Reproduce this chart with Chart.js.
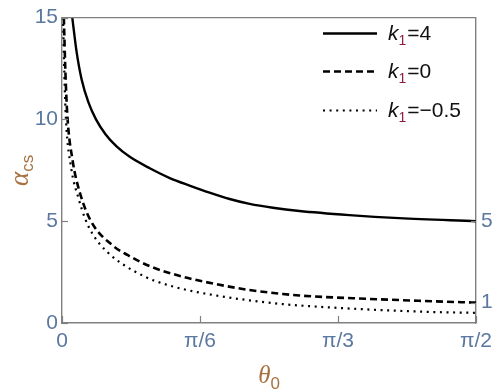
<!DOCTYPE html>
<html><head><meta charset="utf-8">
<script src="https://cdn.jsdelivr.net/npm/chart.js@4.4.1/dist/chart.umd.min.js"></script>
<style>html,body{margin:0;padding:0;background:#fff;overflow:hidden}#wrap{width:498px;height:391px;position:relative}</style>
</head><body><div id="wrap"><canvas id="c" width="498" height="391"></canvas></div>
<script>
// Data (theta0 in radians, alpha_cs)
const thetaK4 = [0.039, 0.055, 0.0745, 0.1, 0.129, 0.165, 0.207, 0.257, 0.333, 0.409, 0.484, 0.56, 0.636, 0.712, 0.8, 0.901, 1.09, 1.279, 1.571];
const alphaK4 = [15, 13.35, 11.96, 10.85, 10.0, 9.27, 8.67, 8.16, 7.6, 7.12, 6.75, 6.4, 6.09, 5.85, 5.66, 5.5, 5.3, 5.15, 5.0];
const thetaK0 = [0.007, 0.013, 0.02, 0.04, 0.068, 0.11, 0.193, 0.25, 0.333, 0.459, 0.585, 0.711, 0.836, 0.901, 1.153, 1.404, 1.571];
const alphaK0 = [15, 12.3, 10.24, 8.0, 6.39, 5.0, 3.8, 3.33, 2.79, 2.27, 1.91, 1.62, 1.43, 1.35, 1.19, 1.07, 1.0];
const thetaKm = [0.004, 0.009, 0.015, 0.035, 0.064, 0.087, 0.117, 0.174, 0.231, 0.314, 0.352, 0.458, 0.585, 0.712, 0.836, 0.901, 1.153, 1.404, 1.571];
const alphaKm = [15, 12.2, 10, 7.6, 6.07, 5.15, 4.35, 3.46, 2.88, 2.28, 2.07, 1.67, 1.35, 1.11, 0.93, 0.86, 0.67, 0.54, 0.5];
const seriesK = ['4', '0', '\u22120.5'];
const xTickValues = [0, Math.PI / 6, Math.PI / 3, Math.PI / 2];
const xTickLabels = ['0', '\u03c0/6', '\u03c0/3', '\u03c0/2'];
const yTickValues = [0, 5, 10, 15];
const rightTickValues = [1, 5];
const rightTickLabels = ['1', '5'];

const TICK_COLOR = '#5b78a0';
const TITLE_COLOR = '#a8713f';
const FRAME = '#808080';
const FONT = "'Liberation Sans', Arial, sans-serif";

function pts(xs, ys) { return xs.map((x, i) => ({ x: x, y: ys[i] })); }
const dashes = [[], [7, 4], [2, 4.6]];
const widths = [2.4, 2.6, 2.2];

const framePlugin = {
  id: 'frame',
  afterDraw(chart) {
    const { ctx, chartArea: a, scales } = chart;
    ctx.save();
    ctx.strokeStyle = FRAME; ctx.lineWidth = 1.4;
    ctx.beginPath();
    ctx.moveTo(a.left, a.top); ctx.lineTo(a.right, a.top);
    ctx.stroke();
    // inward tick marks
    ctx.lineWidth = 1.2;
    xTickValues.forEach(v => {
      const px = Math.round(scales.x.getPixelForValue(v)) + 0.5;
      ctx.beginPath(); ctx.moveTo(px, a.bottom); ctx.lineTo(px, a.bottom - 7); ctx.stroke();
    });
    yTickValues.forEach(v => {
      const py = Math.round(scales.y.getPixelForValue(v)) + 0.5;
      ctx.beginPath(); ctx.moveTo(a.left, py); ctx.lineTo(a.left + 6, py); ctx.stroke();
    });
    rightTickValues.forEach(v => {
      const py = Math.round(scales.y2.getPixelForValue(v)) + 0.5;
      ctx.beginPath(); ctx.moveTo(a.right, py); ctx.lineTo(a.right - 5, py); ctx.stroke();
    });
    // axis titles
    ctx.fillStyle = TITLE_COLOR;
    ctx.textBaseline = 'alphabetic';
    const cx = (a.left + a.right) / 2;
    ctx.font = "italic 25px 'Liberation Serif', 'DejaVu Serif', serif";
    const wT = ctx.measureText('\u03b8').width;
    ctx.font = "17px " + FONT;
    const w0 = ctx.measureText('0').width;
    let sx = cx - (wT + w0) / 2;
    ctx.font = "italic 25px 'Liberation Serif', 'DejaVu Serif', serif";
    ctx.textAlign = 'left';
    ctx.fillText('\u03b8', sx, 383);
    ctx.font = "17px " + FONT;
    ctx.fillText('0', sx + wT, 389);
    ctx.save();
    ctx.translate(28, (a.top + a.bottom) / 2);
    ctx.rotate(-Math.PI / 2);
    ctx.font = "italic 27px 'Liberation Serif', 'DejaVu Serif', serif";
    const wa = ctx.measureText('\u03b1').width;
    ctx.font = "17px " + FONT;
    const wcs = ctx.measureText('cs').width;
    const ax = -(wa + wcs) / 2;
    ctx.font = "italic 27px 'Liberation Serif', 'DejaVu Serif', serif";
    ctx.fillText('\u03b1', ax, 0);
    ctx.font = "17px " + FONT;
    ctx.fillText('cs', ax + wa, 5);
    ctx.restore();
    // legend
    const ly = [33, 71, 110];
    chart.data.datasets.forEach((ds, i) => {
      ctx.save();
      ctx.strokeStyle = '#000';
      ctx.lineWidth = widths[i];
      ctx.setLineDash(dashes[i]);
      ctx.beginPath(); ctx.moveTo(323, ly[i] + 0.5); ctx.lineTo(377, ly[i] + 0.5); ctx.stroke();
      ctx.restore();
      let tx = 388;
      ctx.textAlign = 'left';
      ctx.fillStyle = '#111';
      ctx.font = "italic 21px " + FONT;
      ctx.fillText('k', tx, ly[i] + 7);
      tx += ctx.measureText('k').width;
      ctx.fillStyle = '#8a1f3c';
      ctx.font = "14px " + FONT;
      ctx.fillText('1', tx, ly[i] + 12);
      tx += ctx.measureText('1').width;
      ctx.fillStyle = '#111';
      ctx.font = "21px " + FONT;
      ctx.fillText('=' + seriesK[i], tx + 1, ly[i] + 7);
    });
    ctx.restore();
  }
};

new Chart(document.getElementById('c'), {
  type: 'line',
  data: {
    datasets: [
      { label: 'k1=4', data: pts(thetaK4, alphaK4) },
      { label: 'k1=0', data: pts(thetaK0, alphaK0) },
      { label: 'k1=-0.5', data: pts(thetaKm, alphaKm) }
    ].map((d, i) => Object.assign(d, {
      borderColor: '#000', backgroundColor: '#000', borderWidth: widths[i],
      borderDash: dashes[i], pointRadius: 0, cubicInterpolationMode: 'monotone', fill: false
    }))
  },
  options: {
    responsive: false, animation: false, devicePixelRatio: 1,
    layout: { padding: { top: 11, left: 0, right: 0, bottom: 0 } },
    plugins: { legend: { display: false }, tooltip: { enabled: false } },
    scales: {
      x: {
        type: 'linear', min: 0, max: Math.PI / 2,
        afterBuildTicks: s => { s.ticks = xTickValues.map(v => ({ value: v })); },
        afterFit: s => { s.height = 68; },
        grid: { display: false, drawTicks: false },
        border: { display: true, color: FRAME, width: 1.4 },
        ticks: { color: TICK_COLOR, font: { family: FONT, size: 21 }, padding: 6,
          maxRotation: 0, autoSkip: false,
          callback: (v, i) => xTickLabels[i] }
      },
      y: {
        type: 'linear', position: 'left', min: 0, max: 15,
        afterBuildTicks: s => { s.ticks = yTickValues.map(v => ({ value: v })); },
        afterFit: s => { s.width = 62; },
        grid: { display: false, drawTicks: false },
        border: { display: true, color: FRAME, width: 1.4 },
        ticks: { color: TICK_COLOR, font: { family: FONT, size: 21 }, padding: 4 }
      },
      y2: {
        type: 'linear', position: 'right', min: 0, max: 15,
        afterBuildTicks: s => { s.ticks = rightTickValues.map(v => ({ value: v })); },
        afterFit: s => { s.width = 21; },
        grid: { display: false, drawTicks: false },
        border: { display: true, color: FRAME, width: 1.4 },
        ticks: { color: TICK_COLOR, font: { family: FONT, size: 21 }, padding: 5,
          callback: (v, i) => rightTickLabels[i] }
      }
    }
  },
  plugins: [framePlugin]
});
</script>
</body></html>
